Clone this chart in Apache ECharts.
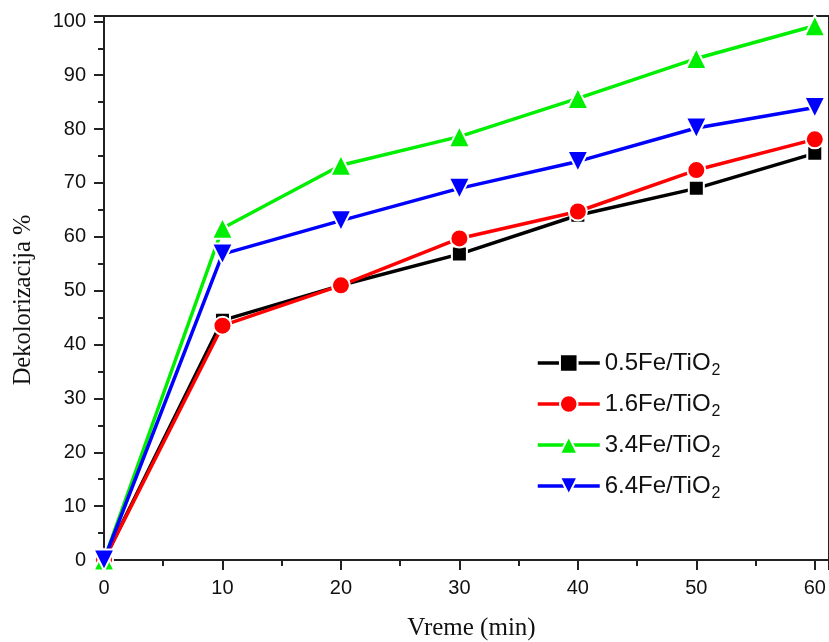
<!DOCTYPE html>
<html>
<head>
<meta charset="utf-8">
<script src="https://cdn.jsdelivr.net/npm/echarts@6/dist/echarts.min.js"></script>
<style>html,body{margin:0;padding:0;background:#fff}#c{width:829px;height:642px}</style>
</head>
<body>
<div id="c"></div>
<script>
const times = [0, 10, 20, 30, 40, 50, 60];
const s05 = [0, 44.5, 51.0, 56.8, 64.0, 69.0, 75.5];
const s16 = [0, 43.5, 51.0, 59.7, 64.7, 72.4, 78.1];
const s34 = [0, 61.6, 73.3, 78.6, 85.7, 93.1, 99.2];
const s64 = [0, 56.8, 63.0, 69.0, 74.0, 80.2, 84.0];
const seriesNames = ['0.5Fe/TiO2', '1.6Fe/TiO2', '3.4Fe/TiO2', '6.4Fe/TiO2'];
const xTitle = 'Vreme (min)';
const yTitle = 'Dekolorizacija %';

const pairs = arr => times.map((t, i) => [t, arr[i]]);
const chart = echarts.init(document.getElementById('c'), null, {renderer: 'canvas'});

function mk(name, data, color, symbol, size, rotate) {
  return {
    name, type: 'line', data: pairs(data), symbol, symbolSize: size, symbolRotate: rotate || 0,
    showAllSymbol: true, clip: false,
    lineStyle: {color, width: 3.5},
    itemStyle: {color, borderColor: '#fff', borderWidth: 2, opacity: 1},
    emphasis: {disabled: true}, animation: false
  };
}

const axisCommon = {
  axisLine: {show: true, onZero: false, lineStyle: {color: '#222', width: 2}},
  axisTick: {show: true, inside: false, length: 10, lineStyle: {color: '#222', width: 2}},
  minorTick: {show: true, splitNumber: 2, length: 6, lineStyle: {color: '#222', width: 2}},
  splitLine: {show: false},
  axisLabel: {color: '#111', fontFamily: 'Liberation Sans', fontSize: 20}
};

chart.setOption({
  animation: false,
  backgroundColor: '#fff',
  grid: {left: 104, top: 16, right: 0, bottom: 82, show: true, borderColor: '#222', borderWidth: 2,
    containLabel: false, outerBoundsMode: 'none'},
  xAxis: Object.assign({}, axisCommon, {
    type: 'value', min: 0, max: 61.2, interval: 10,
    axisLabel: Object.assign({}, axisCommon.axisLabel, {margin: 18, formatter: v => (v <= 60 ? String(v) : '')}),
    name: xTitle, nameLocation: 'middle', nameGap: 56,
    nameTextStyle: {fontFamily: 'Liberation Serif', fontSize: 25, color: '#111', padding: [0, 0, 0, 10]}
  }),
  yAxis: Object.assign({}, axisCommon, {
    type: 'value', min: 0, max: 101, interval: 10,
    axisLabel: Object.assign({}, axisCommon.axisLabel, {margin: 18, formatter: v => (v <= 100 ? String(v) : '')}),
    name: yTitle, nameLocation: 'middle', nameGap: 68,
    nameTextStyle: {fontFamily: 'Liberation Serif', fontSize: 24.5, color: '#111', padding: [0, 24, 0, 0]}
  }),
  legend: {
    orient: 'vertical', left: 536, top: 347, padding: 0, itemWidth: 62, itemHeight: 22, itemGap: 9,
    lineStyle: {width: 3.5},
    textStyle: {fontFamily: 'Liberation Sans', fontSize: 24, color: '#111', lineHeight: 27,
      rich: {s: {fontFamily: 'Liberation Sans', fontSize: 16, color: '#111', lineHeight: 27, padding: [16, 0, 0, 1]}}},
    formatter: n => n.replace(/2$/, '{s|2}'),
    data: seriesNames
  },
  series: [
    mk(seriesNames[0], s05, '#000000', 'rect', 15),
    mk(seriesNames[1], s16, '#ff0000', 'circle', 18),
    mk(seriesNames[2], s34, '#00ee00', 'triangle', 21),
    mk(seriesNames[3], s64, '#0000ff', 'triangle', 21, 180)
  ]
});
</script>
</body>
</html>
